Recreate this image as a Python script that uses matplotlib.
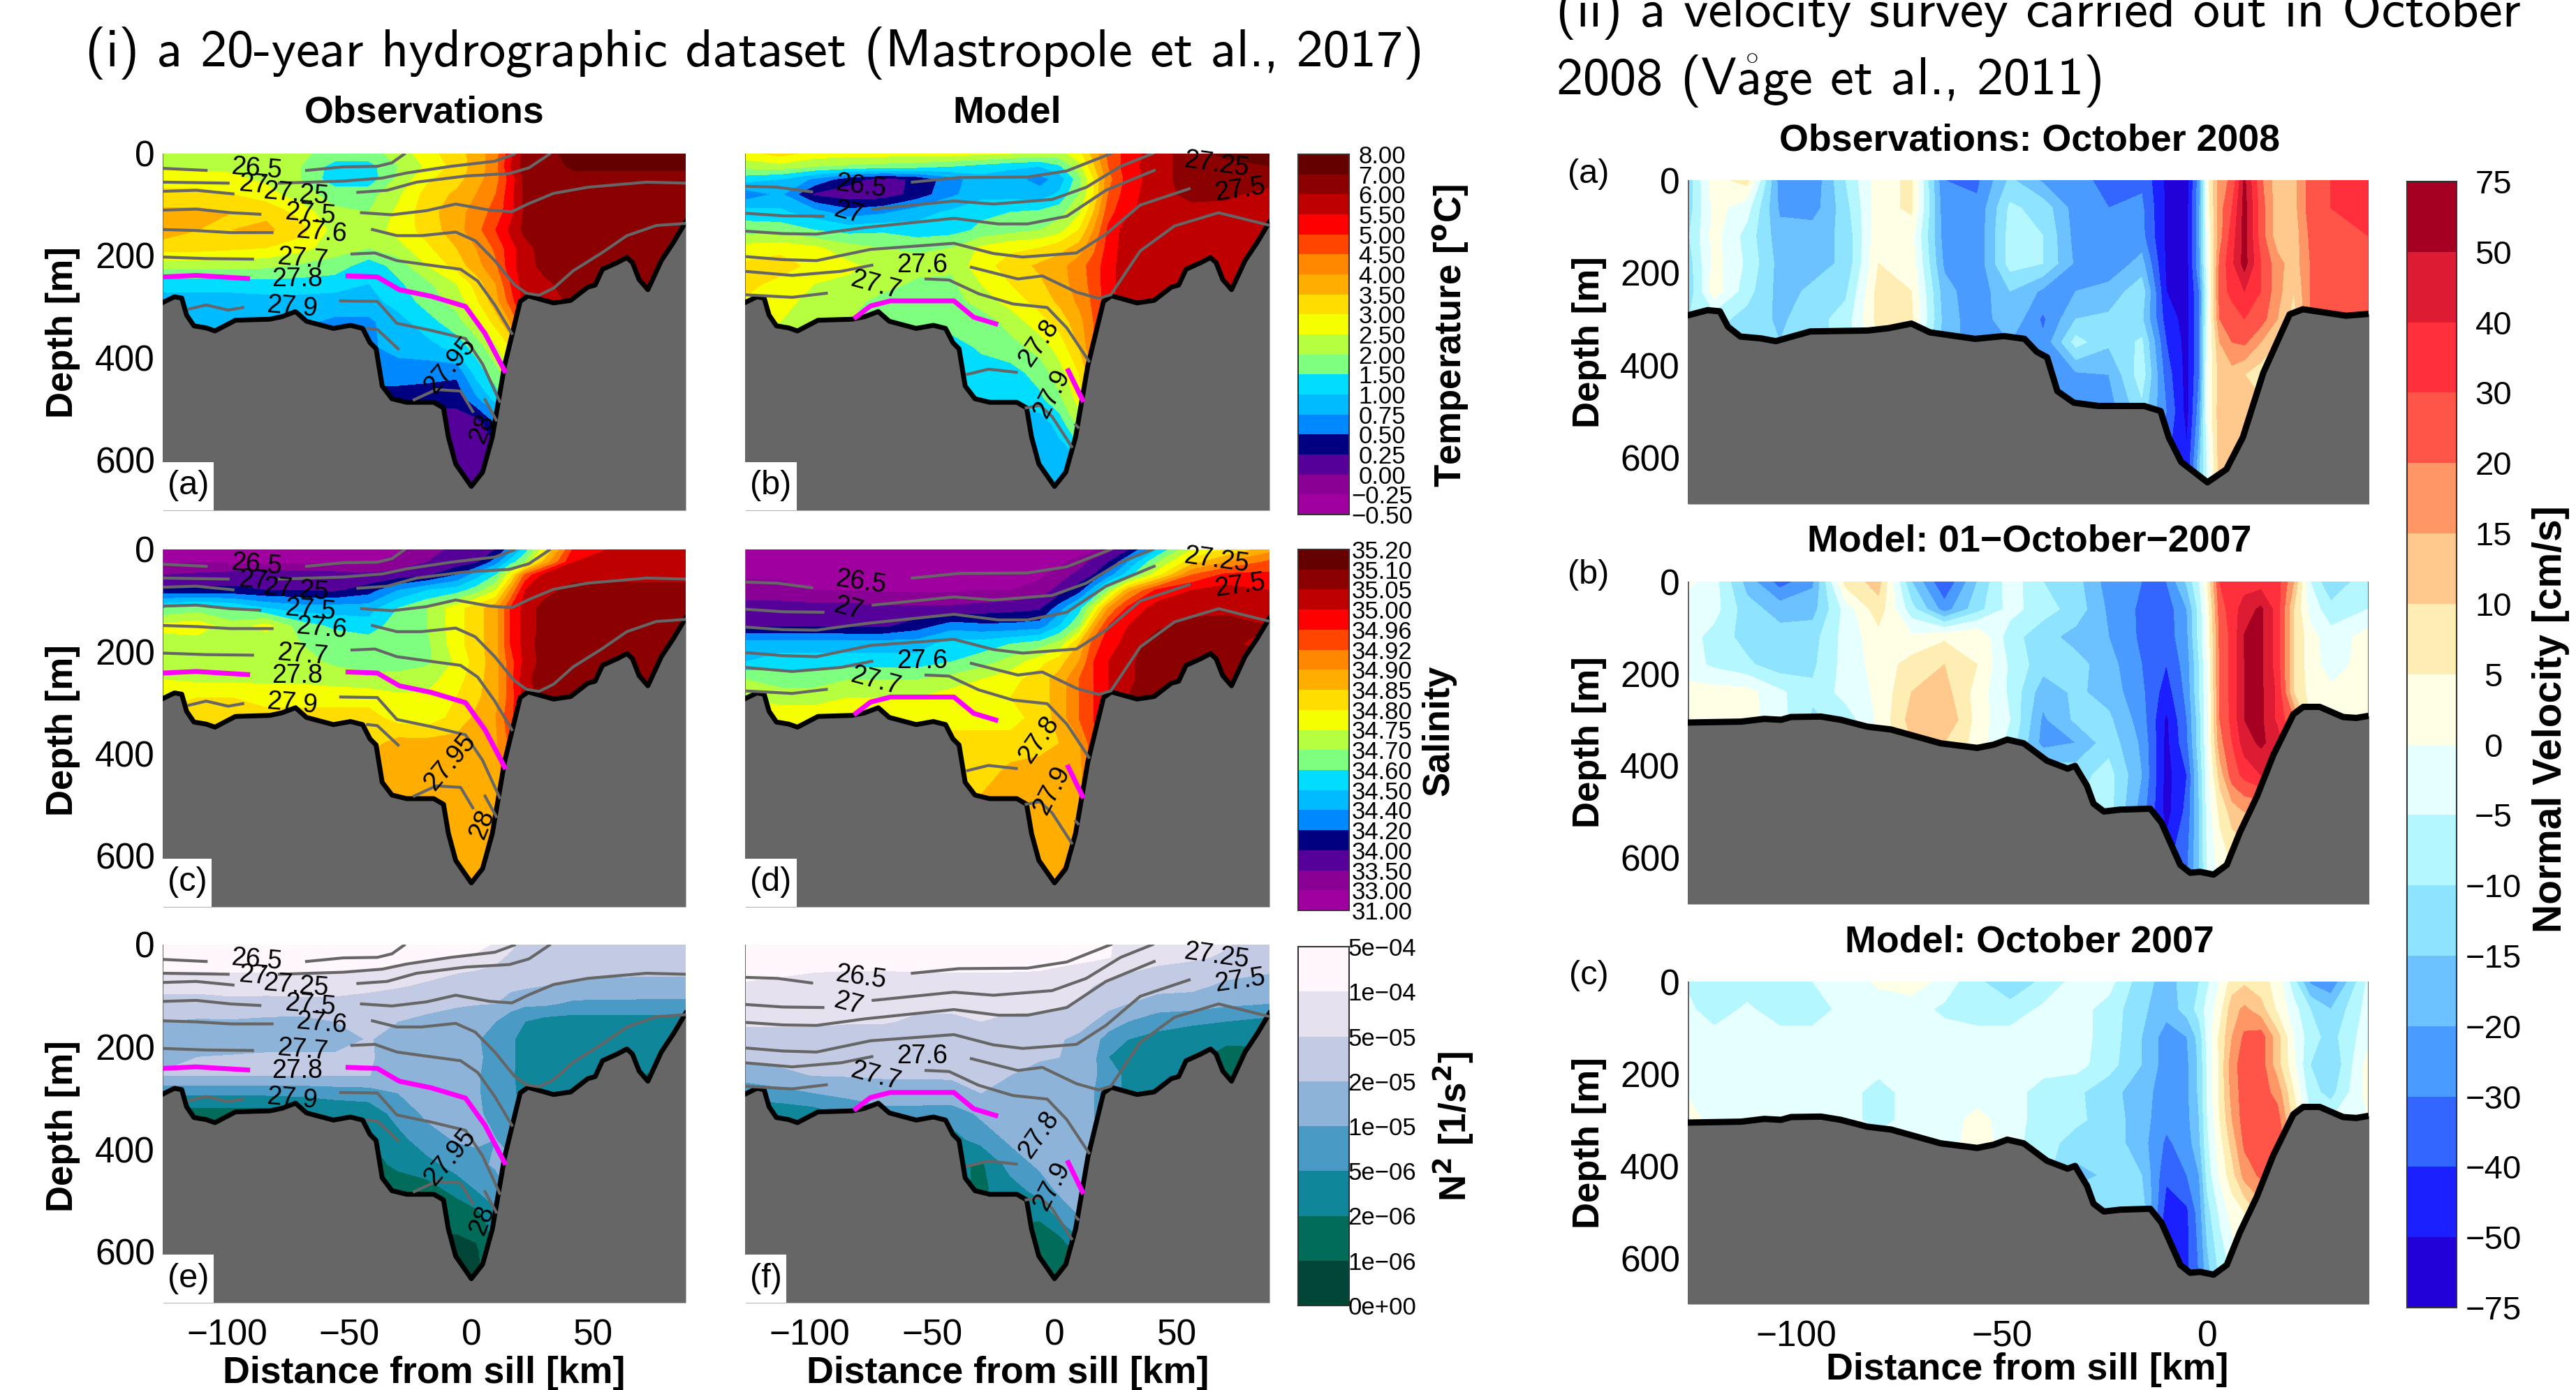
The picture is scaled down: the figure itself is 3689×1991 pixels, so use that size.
import numpy as np
import matplotlib
matplotlib.use('Agg')
import matplotlib.pyplot as plt
from matplotlib.colors import ListedColormap, BoundaryNorm
from matplotlib.patches import Rectangle

W, H = 3689, 1991

plt.rcParams['font.family'] = ['Liberation Sans', 'DejaVu Sans']
plt.rcParams['axes.unicode_minus'] = True

# --- grids -------------------------------------------------------------
x_left = [-126, -112, -98, -84, -70, -56, -42, -30, -18, -6, 2, 10, 16, 22, 30, 42, 56, 70, 88]
z_left = [0, 25, 50, 80, 115, 150, 185, 220, 255, 290, 330, 380, 430, 480, 530, 600, 660]
x_right = [-126, -120, -112, -104, -96, -88, -80, -72, -64, -56, -48, -40, -32, -24, -16, -10, -5, -2, 0, 3, 6, 9, 13, 17, 21, 25, 30, 39]
z_right = [0, 60, 120, 180, 240, 300, 350, 420, 500, 660]

# --- bathymetry --------------------------------------------------------
bathy_x = [-126.3, -121.6, -118.6, -116.6, -113.6, -108.6, -105, -96.6, -82.6, -77.6, -72, -67.5, -56.5, -49.5, -44.5, -41.5, -39, -36.5, -32.5, -26.5, -15.4, -11.4, -9.4, -6.4, 0, 4.6, 8.6, 13.6, 17.6, 20, 23.2, 27.7, 33.7, 40.7, 47.7, 50.7, 53.7, 59.7, 63.7, 66, 68.7, 72.3, 77.8, 82.8, 87.8]
bathy_z = [292, 281, 283.5, 317, 338, 342, 348, 327, 325, 320, 310, 329, 343, 337, 343, 371, 383, 456, 481, 488, 488, 499, 556, 609, 653, 625, 556, 416, 337, 290, 279, 285, 293, 288, 262, 258, 227, 214, 204, 214, 247, 267, 210, 174, 134]
model_bathy_x = [-126.4, -113.4, -107.8, -103.7, -101.3, -94, -89.2, -82.7, -77, -64.9, -56, -52, -48.7, -44.7, -39, -34, -32.2, -29.3, -27.7, -25.2, -21.2, -13.9, -11.2, -6.6, -4.2, -1.8, 1.5, 4.7, 7.9, 12, 16, 20.9, 23.3, 27.3, 33, 36.2, 39.5]
model_bathy_z = [306, 304, 298, 300, 294, 293, 300, 315, 321, 351, 361, 354, 343, 351, 389, 406, 400, 443, 482, 499, 495, 493, 523, 615, 632, 630, 636, 615, 544, 467, 377, 288, 272, 272, 294, 296, 291]

# --- temperature [degC] ------------------------------------------------
temp_levels = [-0.5, -0.25, 0, 0.25, 0.5, 0.75, 1, 1.5, 2, 2.5, 3, 3.5, 4, 4.5, 5, 5.5, 6, 7, 8]
temp_obs = [
    [2.3, 2.3, 2.3, 2.3, 2.1, 1.8, 1.8, 2.2, 2.8, 3.3, 3.7, 4.3, 5.3, 6.5, 6.5, 7.5, 7.5, 7.5, 7.5],
    [2.4, 2.4, 2.4, 2.3, 2.0, 1.3, 1.3, 2.0, 2.6, 3.2, 3.7, 4.3, 5.5, 6.5, 6.5, 7.2, 7.2, 7.2, 7.2],
    [2.7, 2.7, 2.6, 2.4, 2.0, 1.2, 1.2, 2.1, 2.9, 3.3, 3.8, 4.3, 5.2, 6.3, 6.5, 6.6, 6.6, 6.6, 6.6],
    [3.2, 3.2, 3.0, 2.7, 2.2, 1.8, 1.8, 2.4, 3.2, 3.6, 4.0, 4.5, 5.3, 6.3, 6.5, 6.5, 6.5, 6.5, 6.5],
    [3.6, 3.6, 3.5, 3.4, 2.8, 2.1, 2.0, 2.6, 3.3, 3.8, 4.2, 4.7, 5.3, 6.2, 6.5, 6.5, 6.5, 6.5, 6.5],
    [3.8, 3.5, 3.5, 3.6, 3.2, 2.3, 2.2, 2.7, 3.2, 3.8, 4.3, 5.0, 5.6, 6.3, 6.5, 6.5, 6.5, 6.5, 6.5],
    [3.2, 3.2, 3.1, 3.0, 2.7, 2.2, 2.0, 2.3, 2.9, 3.5, 4.0, 4.6, 5.3, 5.8, 6.5, 6.5, 6.5, 6.5, 6.5],
    [2.2, 2.2, 2.2, 2.1, 1.9, 1.8, 1.2, 1.7, 2.5, 3.2, 3.8, 4.4, 5.3, 5.8, 6.3, 6.5, 6.5, 6.5, 6.5],
    [1.2, 1.2, 1.2, 1.3, 1.3, 1.2, 1.0, 1.4, 1.9, 2.5, 3.2, 4.0, 5.0, 5.8, 5.9, 6.5, 6.5, 6.5, 6.5],
    [0.9, 0.9, 0.9, 0.9, 0.9, 0.9, 0.9, 1.2, 1.7, 2.2, 2.9, 3.8, 4.7, 5.8, 5.8, 6.2, 6.5, 6.5, 6.5],
    [0.8, 0.8, 0.8, 0.8, 0.8, 0.7, 0.7, 0.9, 1.3, 1.8, 2.4, 3.2, 4.0, 5.0, 5.8, 6.2, 6.2, 6.2, 6.2],
    [0.7, 0.7, 0.7, 0.7, 0.7, 0.7, 0.7, 0.85, 0.9, 1.2, 1.7, 2.4, 3.0, 5.0, 5.8, 6.2, 6.2, 6.2, 6.2],
    [0.6, 0.6, 0.6, 0.6, 0.6, 0.6, 0.6, 0.6, 0.6, 0.55, 1.2, 1.8, 2.5, 5.0, 5.8, 6.2, 6.2, 6.2, 6.2],
    [0.4, 0.4, 0.4, 0.4, 0.4, 0.4, 0.4, 0.4, 0.35, 0.35, 0.7, 1.2, 2.0, 5.0, 5.8, 6.2, 6.2, 6.2, 6.2],
    [0.1, 0.1, 0.1, 0.1, 0.1, 0.1, 0.1, 0.1, 0.1, 0.1, 0.1, 0.5, 1.5, 5.0, 5.8, 6.2, 6.2, 6.2, 6.2],
    [0.1, 0.1, 0.1, 0.1, 0.1, 0.1, 0.1, 0.1, 0.1, 0.1, 0.1, 0.1, 1.0, 5.0, 5.8, 6.2, 6.2, 6.2, 6.2],
    [0.1, 0.1, 0.1, 0.1, 0.1, 0.1, 0.1, 0.1, 0.1, 0.1, 0.1, 0.1, 1.0, 5.0, 5.8, 6.2, 6.2, 6.2, 6.2],
]
temp_model = [
    [2.8, 3.2, 2.8, 2.7, 2.7, 2.7, 2.7, 2.6, 2.5, 2.3, 2.3, 2.8, 3.7, 4.6, 5.2, 5.8, 6.5, 7.3, 7.4],
    [2.2, 2.3, 2.0, 1.9, 1.8, 1.7, 1.5, 1.3, 1.1, 1.0, 1.4, 2.3, 3.4, 4.5, 5.3, 5.8, 6.5, 6.5, 7.0],
    [1.2, 1.0, 0.7, 0.35, 0.15, 0.3, 0.65, 0.9, 0.85, 0.65, 0.85, 1.8, 3.0, 4.3, 5.2, 5.8, 6.5, 6.5, 6.5],
    [0.6, 0.8, 0.2, 0.1, 0.1, 0.35, 0.7, 0.9, 0.9, 0.85, 1.1, 2.0, 3.0, 4.5, 5.3, 5.8, 6.3, 6.2, 5.8],
    [1.2, 1.1, 0.85, 0.6, 0.7, 0.9, 1.1, 1.4, 1.5, 1.6, 1.8, 2.4, 3.5, 4.8, 5.4, 5.8, 5.8, 5.8, 5.8],
    [1.8, 1.8, 1.5, 1.3, 1.4, 1.2, 1.3, 1.6, 1.8, 2.0, 2.3, 3.0, 4.0, 5.1, 5.8, 5.8, 5.8, 5.8, 5.8],
    [2.7, 2.8, 2.6, 2.2, 2.0, 1.9, 2.0, 2.6, 2.9, 3.0, 3.3, 3.7, 4.4, 5.2, 5.8, 5.8, 5.8, 5.8, 5.8],
    [3.1, 3.3, 2.8, 2.6, 2.3, 2.2, 2.1, 2.8, 3.2, 3.6, 3.8, 4.3, 4.7, 5.3, 5.8, 5.8, 5.8, 5.8, 5.8],
    [3.2, 2.8, 2.5, 2.4, 2.2, 1.9, 1.9, 2.5, 3.0, 3.4, 3.8, 4.2, 4.7, 5.3, 5.8, 5.8, 5.8, 5.8, 5.8],
    [2.9, 2.6, 2.4, 2.2, 1.8, 1.8, 1.8, 2.2, 2.7, 3.2, 3.6, 4.1, 4.6, 5.3, 5.8, 5.8, 5.8, 5.8, 5.8],
    [2.7, 2.5, 2.1, 2.0, 1.8, 1.8, 1.8, 1.7, 2.2, 2.8, 3.2, 3.8, 4.5, 5.0, 5.8, 5.8, 5.8, 5.8, 5.8],
    [1.8, 1.8, 1.8, 1.8, 1.8, 1.5, 1.2, 1.6, 1.8, 2.2, 2.7, 3.5, 4.5, 5.0, 5.8, 5.8, 5.8, 5.8, 5.8],
    [1.1, 1.1, 1.1, 1.1, 1.1, 1.1, 1.1, 1.2, 1.3, 1.7, 2.3, 3.0, 4.0, 5.0, 5.8, 5.8, 5.8, 5.8, 5.8],
    [1.1, 1.1, 1.1, 1.1, 1.1, 1.1, 1.1, 1.15, 1.1, 1.4, 1.9, 2.7, 4.0, 5.0, 5.8, 5.8, 5.8, 5.8, 5.8],
    [0.85, 0.85, 0.85, 0.85, 0.85, 0.85, 0.85, 0.85, 0.85, 0.85, 1.2, 2.2, 3.5, 5.0, 5.8, 5.8, 5.8, 5.8, 5.8],
    [0.85, 0.85, 0.85, 0.85, 0.85, 0.85, 0.85, 0.85, 0.85, 0.85, 0.85, 1.0, 3.0, 5.0, 5.8, 5.8, 5.8, 5.8, 5.8],
    [0.85, 0.85, 0.85, 0.85, 0.85, 0.85, 0.85, 0.85, 0.85, 0.85, 0.85, 0.85, 3.0, 5.0, 5.8, 5.8, 5.8, 5.8, 5.8],
]

# --- salinity ----------------------------------------------------------
salt_levels = [31.0, 33.0, 33.5, 34.0, 34.2, 34.4, 34.5, 34.6, 34.7, 34.75, 34.8, 34.85, 34.9, 34.92, 34.96, 35.0, 35.05, 35.1, 35.2]
salt_obs = [
    [32, 32, 32, 32, 32, 32, 32, 32.5, 33.2, 33.7, 33.8, 34.0, 34.3, 34.55, 34.78, 34.97, 35.0, 35.03, 35.03],
    [32.8, 32.8, 32.7, 32.6, 32.6, 32.6, 32.7, 33.2, 33.5, 33.7, 33.9, 34.3, 34.55, 34.7, 34.87, 35.0, 35.02, 35.03, 35.03],
    [33.5, 33.6, 33.7, 33.8, 33.8, 33.7, 33.6, 33.7, 33.9, 34.2, 34.45, 34.6, 34.78, 34.93, 35.02, 35.03, 35.03, 35.03, 35.03],
    [34.05, 34.05, 34.05, 34.0, 34.0, 33.9, 34.1, 34.4, 34.5, 34.55, 34.65, 34.75, 34.9, 35.0, 35.03, 35.07, 35.07, 35.07, 35.07],
    [34.6, 34.65, 34.6, 34.5, 34.45, 34.45, 34.45, 34.6, 34.7, 34.78, 34.83, 34.88, 34.96, 35.02, 35.07, 35.08, 35.08, 35.08, 35.08],
    [34.77, 34.78, 34.72, 34.77, 34.65, 34.58, 34.55, 34.65, 34.7, 34.78, 34.83, 34.88, 34.96, 35.02, 35.07, 35.08, 35.08, 35.08, 35.08],
    [34.72, 34.72, 34.72, 34.71, 34.70, 34.67, 34.65, 34.65, 34.68, 34.78, 34.83, 34.88, 34.96, 35.02, 35.08, 35.08, 35.08, 35.08, 35.08],
    [34.72, 34.72, 34.70, 34.70, 34.72, 34.68, 34.65, 34.65, 34.68, 34.76, 34.82, 34.88, 34.94, 35.02, 35.07, 35.08, 35.08, 35.08, 35.08],
    [34.75, 34.74, 34.74, 34.74, 34.74, 34.73, 34.72, 34.72, 34.73, 34.78, 34.83, 34.88, 34.94, 35.04, 35.07, 35.08, 35.08, 35.08, 35.08],
    [34.78, 34.8, 34.8, 34.78, 34.78, 34.78, 34.78, 34.76, 34.76, 34.8, 34.84, 34.88, 34.94, 35.02, 35.07, 35.08, 35.08, 35.08, 35.08],
    [34.82, 34.82, 34.82, 34.82, 34.82, 34.82, 34.82, 34.78, 34.77, 34.82, 34.86, 34.9, 34.95, 35.0, 35.07, 35.08, 35.08, 35.08, 35.08],
    [34.83, 34.83, 34.83, 34.83, 34.83, 34.83, 34.83, 34.87, 34.87, 34.87, 34.87, 34.89, 34.93, 35.0, 35.0, 35.0, 35.0, 35.0, 35.0],
    [34.87, 34.87, 34.87, 34.87, 34.87, 34.87, 34.87, 34.87, 34.87, 34.87, 34.87, 34.87, 34.93, 35.0, 35.0, 35.0, 35.0, 35.0, 35.0],
    [34.87, 34.87, 34.87, 34.87, 34.87, 34.87, 34.87, 34.87, 34.87, 34.87, 34.87, 34.87, 34.93, 35.0, 35.0, 35.0, 35.0, 35.0, 35.0],
    [34.87, 34.87, 34.87, 34.87, 34.87, 34.87, 34.87, 34.87, 34.87, 34.87, 34.87, 34.9, 34.93, 35.0, 35.0, 35.0, 35.0, 35.0, 35.0],
    [34.87, 34.87, 34.87, 34.87, 34.87, 34.87, 34.87, 34.87, 34.87, 34.87, 34.87, 34.9, 34.93, 35.0, 35.0, 35.0, 35.0, 35.0, 35.0],
    [34.87, 34.87, 34.87, 34.87, 34.87, 34.87, 34.87, 34.87, 34.87, 34.87, 34.87, 34.9, 34.93, 35.0, 35.0, 35.0, 35.0, 35.0, 35.0],
]
salt_model = [
    [32, 32, 32, 32, 32, 32, 32, 32, 32, 32, 32, 32, 32.5, 33.3, 33.9, 34.5, 34.75, 34.8, 34.88],
    [32, 32, 32, 32, 32, 32, 32, 32, 32, 32, 32.5, 33.2, 33.7, 34.0, 34.4, 34.7, 34.83, 34.9, 34.93],
    [32.7, 32.6, 32.2, 32, 32, 32, 32, 32, 32, 32.6, 33.2, 33.7, 34.0, 34.3, 34.55, 34.78, 34.92, 34.97, 34.97],
    [33.2, 33.2, 33.0, 33.0, 32.7, 32.7, 32.7, 33.0, 33.0, 33.2, 33.7, 34.1, 34.45, 34.7, 34.88, 34.97, 35.0, 35.02, 35.0],
    [33.7, 33.7, 33.7, 33.7, 33.6, 33.6, 33.6, 33.7, 33.8, 33.9, 34.3, 34.55, 34.75, 34.9, 34.97, 35.02, 35.03, 35.03, 35.02],
    [33.95, 33.95, 33.95, 33.9, 33.9, 34.1, 34.3, 34.25, 34.25, 34.3, 34.5, 34.7, 34.88, 34.96, 35.0, 35.04, 35.07, 35.08, 35.05],
    [34.45, 34.45, 34.45, 34.45, 34.45, 34.45, 34.55, 34.55, 34.6, 34.65, 34.72, 34.85, 34.94, 34.98, 35.02, 35.08, 35.08, 35.08, 35.0],
    [34.5, 34.55, 34.55, 34.55, 34.55, 34.55, 34.6, 34.65, 34.72, 34.78, 34.83, 34.9, 34.96, 35.0, 35.04, 35.08, 35.08, 35.08, 35.08],
    [34.7, 34.65, 34.65, 34.7, 34.7, 34.7, 34.72, 34.75, 34.78, 34.83, 34.87, 34.92, 34.96, 35.0, 35.04, 35.08, 35.08, 35.08, 35.08],
    [34.75, 34.73, 34.73, 34.75, 34.75, 34.75, 34.78, 34.78, 34.8, 34.83, 34.87, 34.92, 34.96, 35.0, 35.05, 35.08, 35.08, 35.08, 35.08],
    [34.78, 34.78, 34.78, 34.78, 34.78, 34.78, 34.78, 34.78, 34.78, 34.82, 34.87, 34.92, 34.96, 35.0, 35.05, 35.08, 35.08, 35.08, 35.08],
    [34.82, 34.82, 34.82, 34.82, 34.82, 34.82, 34.82, 34.82, 34.82, 34.83, 34.85, 34.89, 34.95, 35.0, 35.0, 35.0, 35.0, 35.0, 35.0],
    [34.82, 34.82, 34.82, 34.82, 34.82, 34.82, 34.82, 34.82, 34.86, 34.87, 34.87, 34.88, 34.95, 35.0, 35.0, 35.0, 35.0, 35.0, 35.0],
    [34.85, 34.85, 34.85, 34.85, 34.85, 34.85, 34.85, 34.85, 34.87, 34.87, 34.87, 34.88, 34.95, 35.0, 35.0, 35.0, 35.0, 35.0, 35.0],
    [34.87, 34.87, 34.87, 34.87, 34.87, 34.87, 34.87, 34.87, 34.87, 34.87, 34.87, 34.88, 34.95, 35.0, 35.0, 35.0, 35.0, 35.0, 35.0],
    [34.87, 34.87, 34.87, 34.87, 34.87, 34.87, 34.87, 34.87, 34.87, 34.87, 34.87, 34.91, 34.95, 35.0, 35.0, 35.0, 35.0, 35.0, 35.0],
    [34.87, 34.87, 34.87, 34.87, 34.87, 34.87, 34.87, 34.87, 34.87, 34.87, 34.91, 34.91, 34.95, 35.0, 35.0, 35.0, 35.0, 35.0, 35.0],
]

# --- N^2 in units of 1e-6 1/s^2 ----------------------------------------
n2_levels = [0, 1, 2, 5, 10, 20, 50, 100, 500]
n2_labels = ['0e+00', '1e\u221206', '2e\u221206', '5e\u221206', '1e\u221205', '2e\u221205', '5e\u221205', '1e\u221204', '5e\u221204']
n2_obs = [
    [300, 300, 300, 300, 300, 300, 300, 300, 300, 300, 300, 90, 60, 40, 35, 35, 30, 25, 20],
    [300, 300, 300, 300, 300, 300, 300, 300, 200, 120, 85, 60, 45, 35, 35, 30, 30, 28, 25],
    [120, 120, 130, 130, 130, 130, 110, 85, 70, 55, 50, 45, 40, 35, 30, 28, 28, 28, 28],
    [70, 70, 75, 75, 75, 75, 65, 55, 45, 38, 35, 32, 28, 25, 20, 18, 17, 16, 16],
    [35, 35, 40, 38, 40, 40, 35, 30, 28, 25, 22, 20, 15, 12, 12, 9, 9, 9, 9],
    [20, 19, 19, 18, 17, 20, 22, 20, 18, 14, 12, 10, 7, 5, 3.8, 3.5, 3.5, 3.5, 3.5],
    [15, 15, 15, 15, 15, 15, 22, 16, 14, 12, 11, 8, 6, 3.6, 3.2, 3.2, 3.2, 3, 3],
    [18, 20, 22, 25, 25, 25, 23, 16, 14, 13, 12, 8, 6, 3.6, 3.2, 3.2, 3.2, 2.5, 2],
    [22, 22, 22, 22, 22, 21, 21, 13, 12, 12, 11, 8, 6, 3.5, 3, 2.8, 2.5, 2, 2],
    [6, 6, 6, 6, 6, 7, 7.5, 10, 12, 12, 11, 8, 6, 4, 2.5, 2.5, 2, 2, 2],
    [1.5, 1.5, 1.5, 1.5, 2, 2.5, 3, 7, 12, 12, 11, 9, 7, 4, 2, 2, 2, 2, 2],
    [1.5, 1.5, 1.5, 1.5, 1.5, 1.5, 2, 4, 8, 11, 11, 10, 9, 4, 2, 2, 2, 2, 2],
    [1.5, 1.5, 1.5, 1.5, 1.5, 1.5, 1.5, 2.8, 4, 7, 9, 11, 11, 4, 2, 2, 2, 2, 2],
    [1.2, 1.2, 1.2, 1.2, 1.2, 1.2, 1.2, 1.2, 1.5, 3, 5, 8, 11, 4, 2, 2, 2, 2, 2],
    [1.2, 1.2, 1.2, 1.2, 1.2, 1.2, 1.2, 1.2, 1.2, 1.2, 1.6, 4, 8, 4, 2, 2, 2, 2, 2],
    [0.8, 0.8, 0.8, 0.8, 0.8, 0.8, 0.8, 0.8, 0.8, 0.8, 0.8, 2, 8, 4, 2, 2, 2, 2, 2],
    [0.7, 0.7, 0.7, 0.7, 0.7, 0.7, 0.7, 0.7, 0.7, 0.7, 0.7, 2, 8, 4, 2, 2, 2, 2, 2],
]
n2_model = [
    [130, 130, 120, 300, 300, 300, 300, 300, 300, 300, 300, 300, 300, 120, 90, 70, 65, 55, 30],
    [300, 300, 300, 300, 300, 300, 300, 300, 300, 300, 300, 300, 200, 110, 90, 65, 60, 45, 30],
    [300, 200, 130, 110, 110, 130, 140, 130, 130, 110, 90, 70, 65, 60, 55, 45, 35, 30, 25],
    [90, 85, 75, 70, 70, 65, 65, 70, 70, 70, 65, 60, 50, 45, 35, 30, 28, 18, 14],
    [65, 65, 60, 60, 60, 60, 60, 60, 60, 58, 55, 48, 35, 30, 20, 16, 15, 12, 10],
    [60, 60, 60, 55, 55, 45, 45, 50, 45, 45, 40, 30, 20, 15, 10, 7, 6, 5, 4],
    [35, 35, 35, 32, 30, 30, 26, 28, 28, 25, 22, 18, 13, 8, 5, 4, 3, 2.8, 3],
    [27, 27, 25, 25, 25, 25, 25, 25, 25, 25, 20, 16, 12, 5, 4, 3.5, 3, 1.5, 1.5],
    [14, 18, 21, 22, 23, 23, 22, 22, 20, 14, 14, 12, 11, 8, 4, 3, 2, 1.3, 0.8],
    [7, 8, 10, 13, 16, 16, 18, 20, 14, 14, 14, 12, 10, 8, 4, 2, 2, 2, 2],
    [3, 3, 3.5, 6, 8, 8, 7, 12, 14, 14, 14, 13, 10, 8, 4, 2, 2, 2, 2],
    [3, 3, 3, 3, 3, 3, 4, 7, 12, 14, 14, 13, 11, 8, 4, 2, 2, 2, 2],
    [3, 3, 3, 3, 3, 3, 3, 1.8, 7, 12, 14, 14, 11, 8, 4, 2, 2, 2, 2],
    [3, 3, 3, 3, 3, 3, 3, 1.8, 3.5, 7, 12, 14, 11, 8, 4, 2, 2, 2, 2],
    [3, 3, 3, 3, 3, 3, 3, 3, 3, 2.5, 6, 10, 11, 8, 4, 2, 2, 2, 2],
    [1, 1, 1, 1, 1, 1, 1, 1, 1, 1, 1, 3, 8, 8, 4, 2, 2, 2, 2],
    [2, 2, 2, 2, 2, 2, 2, 2, 2, 2, 2, 2, 8, 8, 4, 2, 2, 2, 2],
]

# --- normal velocity [cm/s] --------------------------------------------
vel_levels = [-75, -50, -40, -30, -20, -15, -10, -5, 0, 5, 10, 15, 20, 30, 40, 50, 75]
vel_obs = [
    [-12, 3, 7, -25, -28, -10, 3, 6, -30, -32, -14, -22, -26, -34, -32, -55, -60, -25, 3, 18, 22, 55, 22, 12, 13, 25, 30, 35],
    [-12, 2, -3, -22, -25, -12, 3, 6, -27, -28, -9, -12, -25, -30, -28, -55, -60, -22, 2, 18, 30, 60, 25, 12, 13, 25, 30, 33],
    [-10, 2, -7, -18, -17, -14, 4, 2, -25, -27, -8, -10, -24, -26, -27, -55, -60, -22, 0, 18, 35, 60, 25, 12, 12, 22, 28, 30],
    [-12, 2, -6, -17, -17, -14, 5, 3, -22, -27, -8, -10, -22, -28, -18, -55, -60, -22, -1, 22, 38, 60, 30, 17, 12, 20, 25, 30],
    [-13, 3, -8, -17, -14, -11, 7, 5, -18, -27, -15, -22, -20, -18, -12, -50, -60, -30, -3, 25, 33, 40, 30, 17, 10, 20, 25, 30],
    [-10, -8, -12, -16, -12, -8, 7, 6, -17, -27, -16, -32, -15, -14, -14, -45, -60, -30, -2, 20, 25, 30, 25, 15, 8, 20, 25, 30],
    [-10, -10, -14, -15, -12, -8, 5, 0, -17, -27, -20, -28, -8, -14, -9, -40, -60, -30, -1, 15, 20, 22, 15, 10, 8, 15, 20, 25],
    [-20, -20, -20, -20, -20, -20, -20, -20, -20, -20, -20, -22, -22, -20, -7, -35, -60, -30, 0, 12, 13, 10, 7, 7, 7, 7, 7, 7],
    [-25, -25, -25, -25, -25, -25, -25, -25, -25, -25, -25, -25, -25, -25, -12, -30, -60, -25, 0, 13, 12, 12, 12, 12, 12, 12, 12, 12],
    [-25, -25, -25, -25, -25, -25, -25, -25, -25, -25, -25, -25, -25, -25, -25, -40, -45, -15, -5, 12, 12, 12, 12, 12, 12, 12, 12, 12],
]
vel_model_day = [
    [1, -3, -17, -35, -22, 7, 12, -15, -40, -15, -2, -10, -13, -25, -30, -30, -14, -5, 5, 30, 35, 35, 35, 35, 15, -5, -15, -6],
    [-3, -3, -13, -17, -17, -3, 8, -8, -25, -12, -3, -8, -12, -22, -32, -36, -20, -8, 2, 25, 35, 45, 55, 35, 10, -2, -8, -5],
    [-3, -7, -12, -13, -12, -3, 3, 1, 4, 5, -8, -13, -17, -20, -32, -36, -22, -8, 1, 22, 33, 52, 55, 35, 10, 2, -3, 2],
    [-3, -6, -9, -13, -11, -3, 2, 7, 10, 5, -6, -13, -13, -18, -30, -40, -25, -10, 0, 22, 33, 50, 55, 35, 10, 2, -2, 2],
    [2, 2, 2, -4, -9, -3, 1, 10, 12, 3, -6, -18, -14, -17, -28, -45, -27, -10, -1, 22, 33, 50, 55, 38, 10, 3, 1, 2],
    [2, 2, 2, -3, -11, -8, 1, 12, 15, 3, -5, -22, -14, -14, -25, -55, -30, -12, -1, 20, 33, 50, 55, 38, 20, 5, 1, 1],
    [2, 2, 2, -3, -10, -8, 1, 10, 10, 3, -7, -24, -20, -12, -22, -58, -32, -12, -1, 18, 30, 45, 55, 45, 25, 5, 1, 1],
    [-10, -10, -10, -10, -10, -10, -10, -10, -10, -10, -10, -10, -12, -8, -20, -60, -40, -14, -2, 12, 25, 33, 40, 40, 40, 40, 40, 40],
    [-10, -10, -10, -10, -10, -10, -10, -10, -10, -10, -10, -10, -10, -8, -25, -60, -37, -15, -3, 6, 12, 15, 15, 15, 15, 15, 15, 15],
    [-10, -10, -10, -10, -10, -10, -10, -10, -10, -10, -10, -10, -10, -10, -25, -40, -30, -15, -5, 1, 3, 3, 3, 3, 3, 3, 3, 3],
]
vel_model_month = [
    [-6, -8, -8, -7, -5, -4, 1, 3, -2, -9, -14, -9, -3, -3, -13, -17, -13, -10, -6, 0, 7, 9, 7, 3, -8, -22, -28, -4],
    [-4, -8, -4, -8, -8, -3, -3, -3, -6, -8, -8, -4, -3, -7, -14, -18, -13, -8, -3, 3, 13, 16, 12, 4, -3, -10, -15, -3],
    [-2, -3, -3, -3, -3, -3, -3, -3, -3, -3, -3, -3, -3, -7, -15, -25, -20, -13, -3, 6, 15, 22, 25, 12, 0, -8, -12, -2],
    [-2, -3, -3, -3, -3, -3, -3, -3, -3, -3, -3, -3, -3, -8, -15, -25, -22, -14, -4, 6, 18, 25, 25, 12, 1, -10, -15, 2],
    [-1, -3, -3, -3, -3, -3, -7, -3, -3, -3, -3, -7, -9, -13, -18, -25, -22, -14, -4, 6, 17, 25, 25, 18, 5, -8, -12, 2],
    [3, -3, -3, -3, -3, -3, -7, -3, -3, 2, -3, -7, -9, -12, -18, -27, -23, -15, -5, 5, 15, 25, 25, 25, 8, -4, -5, 0],
    [-3, -3, -3, -3, -3, -3, -3, -3, -3, 3, -3, -8, -12, -12, -18, -32, -25, -16, -6, 3, 12, 22, 25, 25, 15, 5, 2, 0],
    [-8, -8, -8, -8, -8, -8, -8, -8, -8, -8, -8, -8, -17, -14, -15, -38, -30, -20, -8, 1, 8, 17, 22, 25, 25, 25, 25, 25],
    [-10, -10, -10, -10, -10, -10, -10, -10, -10, -10, -10, -10, -10, -10, -12, -45, -42, -25, -12, -4, 2, 5, 12, 12, 12, 12, 12, 12],
    [-12, -12, -12, -12, -12, -12, -12, -12, -12, -12, -12, -12, -12, -12, -12, -50, -42, -30, -18, -10, -5, 0, 0, 0, 0, 0, 0, 0],
]

# --- density contours: (km, m) per segment -----------------------------
obs_iso = [
    ([-126.3, -108.6], [29, 33]),
    ([-67.5, -52.5, -38.5, -32.5, -27.5], [33, 26, 25, 18, 1]),
    ([-126.3, -99.6], [56, 58]),
    ([-78.6, -52.5, -36.5, -26.5, -8.4, 9.6, 17.6], [58, 54, 48, 38, 25, 15, 1]),
    ([-126.3, -112.7, -97.6], [74, 72, 79]),
    ([-46.5, -34.5, -22.4, -2.4, 15.6, 23.6, 32], [76, 72, 56, 44, 39, 28, 1]),
    ([-126.3, -112.7, -98.6, -86.6], [111, 109, 116, 119]),
    ([-45, -32.5, -18.4, -6.4, 7.6, 16.6, 23.6, 33.7, 47.7, 71.7, 87.8], [116, 120, 112, 99, 111, 114, 98, 78, 66, 56, 58]),
    ([-126.3, -112.7, -98.6, -81.6], [149, 151, 155, 155]),
    ([-40.5, -30.5, -20.4, -6.4, 1.6, 9.6, 17.6, 22.6, 27.7, 33.7, 41.7, 53.7, 63.7, 75.8, 87.8], [149, 161, 161, 154, 171, 210, 257, 274, 278, 264, 230, 194, 161, 141, 137]),
    ([-126.3, -108.6, -89.6], [203, 206, 207]),
    ([-48.9, -39.5, -30.5, -18.4, -4.4, 2.6, 9.6, 16.6], [197, 195, 210, 218, 227, 250, 297, 353]),
    ([-115.6, -108.6, -99.6, -93.6], [305, 297, 307, 302]),
    ([-53.5, -38.5, -30.5, -16.4, -2.4, 4.6, 11.6], [289, 290, 333, 347, 363, 413, 486]),
    ([-42.5, -38.5, -30], [343, 345, 383]),
    ([-23.4, -14.4, -4.4, 0.6], [483, 463, 466, 506]),
    ([5.6, 10.2], [483, 523]),
]
obs_magenta = [
    ([-126.3, -112.7, -91.6], [242, 239, 245]),
    ([-50.5, -38.5, -29.5, -16.4, -2.4, 5.6, 13.6], [240, 242, 267, 280, 300, 353, 426]),
]
obs_labels = ['26.5', '27', '27.25', '27.5', '27.6', '27.7', '27.8', '27.9', '27.95', '28']
obs_label_x = [-88, -89.4, -72, -66, -61.3, -69, -71.2, -73.4, -8.8, 4.6]
obs_label_z = [31, 61, 80, 119, 155, 207, 247, 302, 416, 539]
obs_label_rot = [-5, -5, -5, -5, -5, -5, 0, -5, 50, 68]

model_iso = [
    ([-126.5, -113.2, -99.2], [64, 66, 75]),
    ([-58.1, -39.1, -11, 5, 23], [56, 47, 46, 34, 0]),
    ([-126.5, -111, -94.6], [117, 122, 123]),
    ([-74.1, -41.1, -25, -1, 13, 27, 40], [109, 93, 99, 90, 66, 25, 0]),
    ([-126.5, -111, -97.2, -77.2, -41.1, -23, -11, 5, 21, 40.7], [152, 157, 158, 145, 127, 138, 138, 123, 72, 33]),
    ([-126.5, -111, -97.2, -75.2, -41.1, -25, -13, 9, 21, 35, 55], [202, 208, 210, 188, 176, 196, 203, 195, 158, 101, 69]),
    ([-126.5, -107.2, -87.2, -74.6], [231, 239, 231, 219]),
    ([-34, -15, -5, 9, 18, 23, 35, 49, 67, 87.2], [223, 246, 240, 272, 284, 277, 191, 142, 116, 140]),
    ([-126.5, -107.2, -93.2], [277, 282, 274]),
    ([-52.5, -43.1, -31, -17, -3, 5, 14], [246, 248, 275, 295, 302, 342, 407]),
    ([-35.5, -27, -15.6], [433, 423, 429]),
    ([-11.6, -6, -1, 7], [499, 494, 516, 575]),
    ([8.6, 9.6], [532, 537]),
]
model_magenta = [
    ([-81.2, -75.2, -67.1, -41.1, -33, -24], [321, 299, 289, 289, 321, 334]),
    ([5.6, 11.4], [426, 483]),
]
model_labels = ['26.5', '27', '27.25', '27.5', '27.6', '27.7', '27.8', '27.9']
model_label_x = [-79.2, -84.2, 66, 75.8, -54.1, -73.1, -6.4, -1]
model_label_z = [65, 116, 22, 71, 219, 258, 372, 472]
model_label_rot = [-8, -15, -8, 8, 0, -15, 55, 62]

# --- colours -----------------------------------------------------------
jet_cols = ['#A000A0', '#8B0094', '#56009A', '#000080', '#0088FF', '#00BBFF', '#00DDFF', '#7FFF80', '#B5FF40',
            '#F5FF00', '#FFDD00', '#FFAE00', '#FF8800', '#FF4500', '#FF0000', '#BE0000', '#8B0000', '#650000']
n2_cols = ['#014636', '#016C59', '#10869B', '#4A9AC6', '#8DB3D8', '#C3CAE4', '#E6E1EF', '#FFF7FB']
vel_cols = ['#2200D8', '#1A20FF', '#3366FF', '#4A9BFF', '#6CC2FF', '#8EE4FF', '#B4F7FF', '#E6FFFF',
            '#FFFFE6', '#FFEEB4', '#FFC88C', '#FF9666', '#FF5548', '#FF2F3C', '#DC1C32', '#A50021']
land = '#666666'


def px_axes(l, t, r, b):
    return fig.add_axes([l / W, 1 - b / H, (r - l) / W, (b - t) / H])


def put(x, y, s, **kw):
    return fig.text(x / W, 1 - y / H, s, **kw)


def section(ax, xs, zs, table, levels, cols, bx, bz, xlim, lw):
    band = np.interp(np.array(table, dtype=float), levels, np.arange(len(levels)))
    steps = np.arange(len(levels))
    cf = ax.contourf(xs, zs, band, levels=steps, cmap=ListedColormap(cols), norm=BoundaryNorm(steps, len(cols)))
    ax.fill_between(bx, bz, 700, color=land, zorder=3, lw=0)
    ax.plot(bx, bz, color='k', lw=lw, zorder=4, solid_joinstyle='round')
    ax.set_xlim(*xlim)
    ax.set_ylim(700, 0)
    ax.set_yticks([0, 200, 400, 600])
    ax.tick_params(length=0, labelsize=37, pad=8)
    for s in ax.spines.values():
        s.set_visible(False)
    ax.set_facecolor(land)
    return cf


def isopycnals(ax, iso, magenta, labels, lx, lz, rot):
    for x, z in iso:
        ax.plot(x, z, color='#666666', lw=3, zorder=5)
    for x, z in magenta:
        ax.plot(x, z, color='#FF00FF', lw=5, zorder=5)
    for s, x, z, r in zip(labels, lx, lz, rot):
        ax.text(x, z, s, fontsize=27, rotation=r, ha='center', va='center', zorder=6)


def bar(cax, cf, labels, pad, size):
    cb = fig.colorbar(cf, cax=cax)
    cb.set_ticks(np.arange(len(labels)), labels=labels)
    cb.ax.tick_params(length=0, labelsize=size, pad=pad)
    for t in cb.ax.get_yticklabels():
        t.set_ha('center')
    cb.outline.set_linewidth(1.5)
    cb.outline.set_edgecolor('#333333')
    return cb


fig = plt.figure(figsize=(W / 100, H / 100), dpi=100, facecolor='white')

# --- left block: 6 sections --------------------------------------------
left_rows = [(220, 731), (787, 1299), (1353, 1866)]
obs_tables = [(temp_obs, temp_levels, jet_cols), (salt_obs, salt_levels, jet_cols), (n2_obs, n2_levels, n2_cols)]
model_tables = [(temp_model, temp_levels, jet_cols), (salt_model, salt_levels, jet_cols), (n2_model, n2_levels, n2_cols)]
letters_obs = ['(a)', '(c)', '(e)']
letters_model = ['(b)', '(d)', '(f)']
box_obs = [73, 70, 73]
box_model = [74, 74, 59]
cbars = []
for i, (t, b) in enumerate(left_rows):
    ax = px_axes(233, t, 982, b)
    tab, lev, cols = obs_tables[i]
    cf = section(ax, x_left, z_left, tab, lev, cols, bathy_x, bathy_z, (-126.4, 87.8), 5)
    isopycnals(ax, obs_iso, obs_magenta, obs_labels, obs_label_x, obs_label_z, obs_label_rot)
    ax.add_patch(Rectangle((0, 0), box_obs[i] / 749, 69 / (b - t), transform=ax.transAxes, color='white', zorder=7, lw=0))
    ax.text(box_obs[i] / 749 / 2, 35 / (b - t), letters_obs[i], transform=ax.transAxes, fontsize=35, ha='center', va='center', zorder=8)
    if i < 2:
        ax.set_xticks([])
    else:
        ax.set_xticks([-100, -50, 0, 50])
        ax.tick_params(axis='x', pad=16)

    ax = px_axes(1067, t, 1818, b)
    tab, lev, cols = model_tables[i]
    cf = section(ax, x_left, z_left, tab, lev, cols, bathy_x, bathy_z, (-126.4, 87.8), 5)
    isopycnals(ax, model_iso, model_magenta, model_labels, model_label_x, model_label_z, model_label_rot)
    ax.add_patch(Rectangle((0, 0), box_model[i] / 751, 69 / (b - t), transform=ax.transAxes, color='white', zorder=7, lw=0))
    ax.text(box_model[i] / 751 / 2, 35 / (b - t), letters_model[i], transform=ax.transAxes, fontsize=35, ha='center', va='center', zorder=8)
    ax.set_yticks([])
    if i < 2:
        ax.set_xticks([])
    else:
        ax.set_xticks([-100, -50, 0, 50])
        ax.tick_params(axis='x', pad=16)
    cbars.append(cf)

temp_labels = ['%.2f' % v for v in temp_levels]
temp_labels = [s.replace('-', '\u2212') for s in temp_labels]
salt_labels = ['%.2f' % v for v in salt_levels]
bar(px_axes(1859, 221, 1932, 737), cbars[0], temp_labels, 34, 25)
bar(px_axes(1859, 787, 1932, 1304), cbars[1], salt_labels, 34, 25)
bar(px_axes(1859, 1356, 1932, 1870), cbars[2], n2_labels, 34, 25)

# --- right block: velocity sections ------------------------------------
right_rows = [(258, 722), (833, 1295), (1406, 1868)]
right_tables = [vel_obs, vel_model_day, vel_model_month]
right_bx = [bathy_x, model_bathy_x, model_bathy_x]
right_bz = [bathy_z, model_bathy_z, model_bathy_z]
for i, (t, b) in enumerate(right_rows):
    ax = px_axes(2417, t, 3392, b)
    cf = section(ax, x_right, z_right, right_tables[i], vel_levels, vel_cols, right_bx[i], right_bz[i], (-126.4, 39.2), 6.5)
    if i < 2:
        ax.set_xticks([])
    else:
        ax.set_xticks([-100, -50, 0])
        ax.tick_params(axis='x', pad=16)

vel_labels = [('%d' % v).replace('-', '\u2212') for v in vel_levels]
bar(px_axes(3447, 260, 3518, 1873), cf, vel_labels, 38, 34)

# --- texts -------------------------------------------------------------
big = dict(fontsize=55, family=['cmss10', 'DejaVu Sans'], va='baseline', math_fontfamily='cm')
put(122, 95, '(i) a 20-year hydrographic dataset (Mastropole et al., 2017)', **big)
put(2228, 38, '(ii) a velocity survey carried out in October', **big)
put(2228, 136, '2008 (V$\\mathsf{\\mathring{a}}$ge et al., 2011)', **big)

bold = dict(fontsize=38.7, fontweight='bold', ha='center', va='baseline')
put(608, 176, 'Observations', **bold)
put(1442, 176, 'Model', **bold)
put(2906, 216, 'Observations: October 2008', **bold)
put(2906, 790, 'Model: 01\u2212October\u22122007', **bold)
put(2906, 1364, 'Model: October 2007', **bold)
put(607, 1981, 'Distance from sill [km]', **bold)
put(1443, 1981, 'Distance from sill [km]', **bold)
put(2903, 1976, 'Distance from sill [km]', **bold)

rot = dict(fontsize=38, fontweight='bold', rotation=90, ha='center', va='center')
for y in (476, 1046, 1613):
    put(90, y, 'Depth [m]', **rot)
for y in (490, 1063, 1637):
    put(2276, y, 'Depth [m]', **rot)
put(2078, 481, 'Temperature [$\\mathbf{^{o}}$C]', **rot)
put(2060, 1046, 'Salinity', **rot)
put(2081, 1613, 'N$\\mathbf{^{2}}$ [1/s$\\mathbf{^{2}}$]', **rot)
put(3653, 1030, 'Normal Velocity [cm/s]', fontsize=41, fontweight='bold', rotation=90, ha='center', va='center')

for y, s in zip((250, 823, 1397), ('(a)', '(b)', '(c)')):
    put(2275, y, s, fontsize=35, ha='center', va='center')

fig.savefig('out.png', dpi=100)
